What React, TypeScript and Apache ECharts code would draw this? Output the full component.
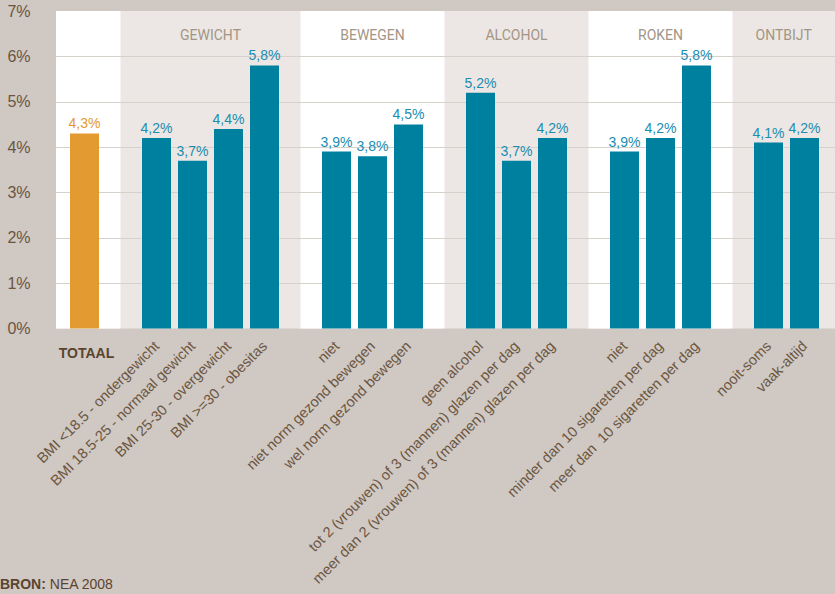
import React, { useEffect, useRef } from 'react';
import * as echarts from 'echarts';

const totaalLabel = 'TOTAAL';
const totaalValue = 4.3;

const groupNames = ['GEWICHT', 'BEWEGEN', 'ALCOHOL', 'ROKEN', 'ONTBIJT'];

const gewichtLabels = ['BMI <18.5 - ondergewicht', 'BMI 18.5-25 - normaal gewicht', 'BMI 25-30 - overgewicht', 'BMI >=30 - obesitas'];
const gewichtValues = [4.2, 3.7, 4.4, 5.8];

const bewegenLabels = ['niet', 'niet norm gezond bewegen', 'wel norm gezond bewegen'];
const bewegenValues = [3.9, 3.8, 4.5];

const alcoholLabels = ['geen alcohol', 'tot 2 (vrouwen) of 3 (mannen) glazen per dag', 'meer dan 2 (vrouwen) of 3 (mannen) glazen per dag'];
const alcoholValues = [5.2, 3.7, 4.2];

const rokenLabels = ['niet', 'minder dan 10 sigaretten per dag', 'meer dan  10 sigaretten per dag'];
const rokenValues = [3.9, 4.2, 5.8];

const ontbijtLabels = ['nooit-soms', 'vaak-altijd'];
const ontbijtValues = [4.1, 4.2];

const yTicks = [0, 1, 2, 3, 4, 5, 6, 7];
const sourceBold = 'BRON:';
const sourceText = ' NEA 2008';

const groupLabels = [gewichtLabels, bewegenLabels, alcoholLabels, rokenLabels, ontbijtLabels];
const groupValues = [gewichtValues, bewegenValues, alcoholValues, rokenValues, ontbijtValues];

const BG = '#d0c8c2';
const LIGHT = '#ece7e4';
const TEAL = '#00809f';
const TEAL_LABEL = '#1a8db0';
const ORANGE = '#e39a30';
const BROWN = '#6a5541';
const DARK = '#5a4430';
const TITLE = '#a39585';
const FONT = '"Liberation Sans", Arial, sans-serif';

const PLOT_LEFT = 56;
const PLOT_RIGHT = 835;

export default function App() {
  const ref = useRef<HTMLDivElement>(null);
  useEffect(() => {
    const el = ref.current!;
    const chart = echarts.init(el, null, { renderer: 'svg' });

    const categories: string[] = [totaalLabel];
    const values: any[] = [{
      value: totaalValue,
      itemStyle: { color: ORANGE },
      label: { color: ORANGE },
    }];
    const gapIndex: number[] = [];
    groupLabels.forEach((labels, g) => {
      gapIndex.push(categories.length);
      categories.push('');
      values.push(null);
      labels.forEach((l, i) => {
        categories.push(l);
        values.push(groupValues[g][i]);
      });
    });

    const fmt = (v: number) => v.toFixed(1).replace('.', ',') + '%';

    chart.setOption({
      animation: false,
      backgroundColor: BG,
      grid: { left: 66.5, right: 12.5, top: 11, bottom: 265.5, containLabel: false },
      xAxis: {
        type: 'category',
        data: categories,
        axisLine: { show: false },
        axisTick: { show: false },
        splitLine: { show: false },
        axisLabel: {
          interval: 0,
          rotate: 45,
          margin: 15,
          color: BROWN,
          fontSize: 14.5,
          fontFamily: FONT,
          formatter: (v: string, i: number) => (i === 0 ? '' : v),
        },
      },
      yAxis: {
        type: 'value',
        min: yTicks[0],
        max: yTicks[yTicks.length - 1],
        interval: 1,
        axisLine: { show: false },
        axisTick: { show: false },
        splitLine: { show: false },
        axisLabel: {
          margin: 36,
          color: BROWN,
          fontSize: 16,
          fontFamily: FONT,
          formatter: (v: number) => v + '%',
        },
      },
      series: [
        {
          type: 'bar',
          data: values,
          barWidth: 29,
          itemStyle: { color: TEAL },
          z: 5,
          label: {
            show: true,
            position: 'top',
            distance: 3,
            color: TEAL_LABEL,
            fontSize: 14,
            fontFamily: FONT,
            formatter: (p: any) => fmt(p.value),
          },
        },
      ],
    });

    const px = (i: number) => chart.convertToPixel({ xAxisIndex: 0 }, i) as number;
    const py = (v: number) => chart.convertToPixel({ yAxisIndex: 0 }, v) as number;
    const top = py(yTicks[yTicks.length - 1]);
    const bottom = py(yTicks[0]);

    const elements: any[] = [];
    elements.push({
      type: 'rect', z: 0,
      shape: { x: PLOT_LEFT, y: top, width: PLOT_RIGHT - PLOT_LEFT, height: bottom - top },
      style: { fill: LIGHT },
    });
    const bounds: number[] = [PLOT_LEFT, ...gapIndex.map(px), PLOT_RIGHT];
    for (let b = 0; b < bounds.length - 1; b++) {
      if (b % 2 === 0) {
        elements.push({
          type: 'rect', z: 0,
          shape: { x: bounds[b], y: top, width: bounds[b + 1] - bounds[b], height: bottom - top },
          style: { fill: '#ffffff' },
        });
      }
    }
    yTicks.slice(1, -1).forEach((t) => {
      const y = Math.round(py(t)) + 0.5;
      elements.push({
        type: 'line', z: 1,
        shape: { x1: PLOT_LEFT, y1: y, x2: PLOT_RIGHT, y2: y },
        style: { stroke: '#d7d1cc', lineWidth: 1 },
      });
    });
    groupNames.forEach((name, g) => {
      const cx = (bounds[g + 1] + bounds[g + 2]) / 2;
      elements.push({
        type: 'text', z: 1,
        x: cx, y: top + 24,
        style: {
          text: name, fill: TITLE, font: '14px Roboto, "Liberation Sans", sans-serif',
          textAlign: 'center', textVerticalAlign: 'middle',
        },
      });
    });
    elements.push({
      type: 'text', z: 1,
      x: px(0) + 2, y: bottom + 24,
      style: {
        text: totaalLabel, fill: DARK, font: 'bold 14px ' + FONT,
        textAlign: 'center', textVerticalAlign: 'middle',
      },
    });
    elements.push({
      type: 'text', z: 1,
      x: 0, y: 584,
      style: {
        text: '{b|' + sourceBold + '}' + sourceText,
        fill: DARK, font: '14px ' + FONT,
        textVerticalAlign: 'middle',
        rich: { b: { fontWeight: 'bold', fill: DARK, fontSize: 14, fontFamily: FONT } },
      },
    });

    chart.setOption({ graphic: elements });

    return () => chart.dispose();
  }, []);
  return <div ref={ref} style={{ position: 'absolute', left: 0, top: 0, width: 835, height: 594 }} />;
}
